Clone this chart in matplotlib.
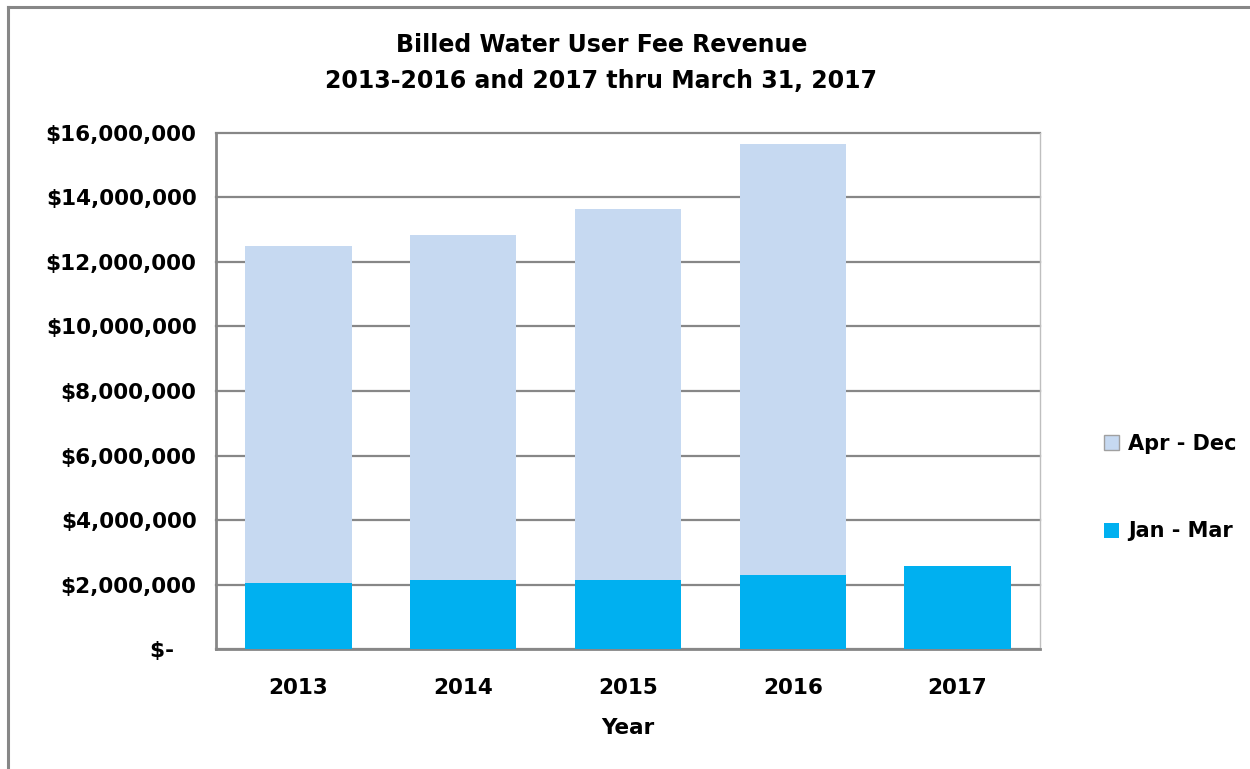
import matplotlib
matplotlib.use("Agg")
import matplotlib.pyplot as plt
import matplotlib.ticker as mticker
from matplotlib.lines import Line2D
import numpy as np

# data
years = ["2013", "2014", "2015", "2016", "2017"]
jan_mar = [2.05e6, 2.13e6, 2.13e6, 2.30e6, 2.57e6]
apr_dec = [10.46e6, 10.70e6, 11.52e6, 13.36e6, 0]
y_ticks = [0, 2e6, 4e6, 6e6, 8e6, 10e6, 12e6, 14e6, 16e6]

light_blue = "#C6D9F1"
cyan = "#00B0F0"
grid_gray = "#878787"

plt.rcParams["font.family"] = ["DejaVu Sans"]

fig = plt.figure(figsize=(12.5, 7.69), dpi=100)
ax = fig.add_axes([0.1728, 0.1560, 0.6592, 0.6711])

x = np.arange(len(years))
ax.bar(x, jan_mar, width=0.645, color=cyan, label="Jan - Mar", zorder=3)
ax.bar(x, apr_dec, width=0.645, bottom=jan_mar, color=light_blue,
       label="Apr - Dec", zorder=3)

ax.set_xlim(-0.5, len(years) - 0.5)
ax.set_ylim(0, 16e6)
ax.set_yticks(y_ticks)


def money(v, pos):
    if v == 0:
        return "$-   "
    return "${:,.0f}".format(v)


ax.yaxis.set_major_formatter(mticker.FuncFormatter(money))
ax.set_xticks(x)
ax.set_xticklabels(years)
ax.tick_params(axis="both", length=0, labelsize=15.5)
ax.tick_params(axis="y", pad=14)
ax.tick_params(axis="x", pad=21)
for lab in ax.get_xticklabels() + ax.get_yticklabels():
    lab.set_fontweight("bold")

ax.yaxis.grid(True, color=grid_gray, linewidth=1.6, zorder=0)
ax.set_axisbelow(True)
for gl in ax.get_ygridlines():
    gl.set_clip_on(False)

for side in ["left", "bottom"]:
    ax.spines[side].set_color(grid_gray)
    ax.spines[side].set_linewidth(2.0)
ax.spines["top"].set_visible(False)
ax.spines["right"].set_color("#BFBFBF")
ax.spines["right"].set_linewidth(1.0)

ax.set_xlabel("Year", fontsize=15.5, fontweight="bold", labelpad=14)

fig.text(0.481, 0.941, "Billed Water User Fee Revenue", ha="center",
         va="center", fontsize=17, fontweight="bold")
fig.text(0.481, 0.895, "2013-2016 and 2017 thru March 31, 2017", ha="center",
         va="center", fontsize=17, fontweight="bold")

handles, labels = ax.get_legend_handles_labels()
leg = fig.legend(handles[::-1], labels[::-1], loc="center left",
                 bbox_to_anchor=(0.868, 0.366), frameon=False,
                 handlelength=0.75, handleheight=0.75, handletextpad=0.4,
                 labelspacing=3.25, prop={"weight": "bold", "size": 15})
leg.legend_handles[0].set_edgecolor("#A0A0A0")
leg.legend_handles[0].set_linewidth(1.0)

# outer chart frame (left and top edges visible)
fig.add_artist(Line2D([0.0064, 0.0064], [0, 0.991], color=grid_gray,
                      linewidth=2.2, transform=fig.transFigure))
fig.add_artist(Line2D([0.0064, 1.0], [0.991, 0.991], color=grid_gray,
                      linewidth=2.2, transform=fig.transFigure))

fig.savefig("out.png", dpi=100)
